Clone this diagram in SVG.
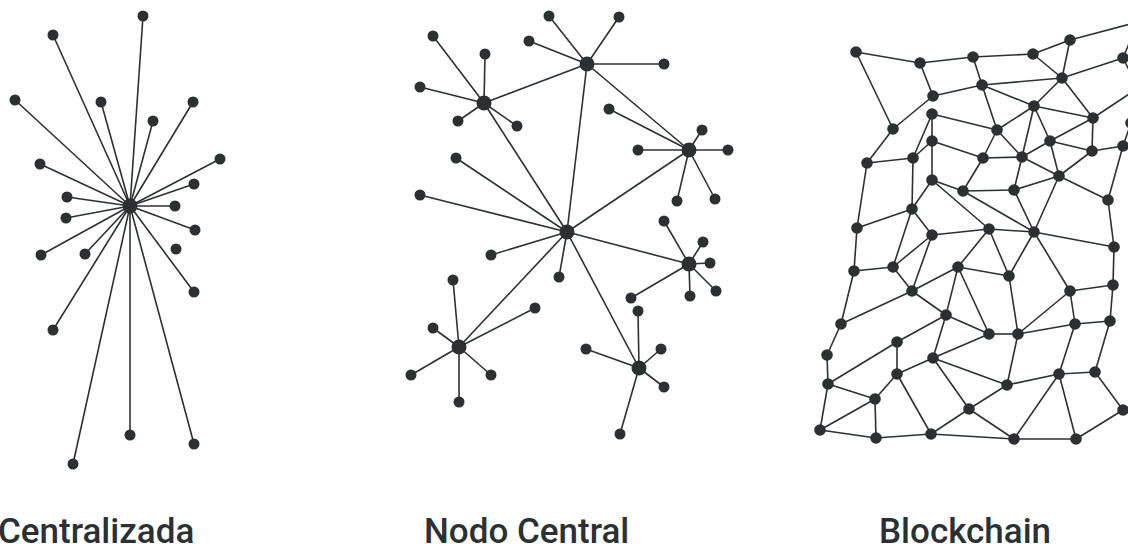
<svg xmlns="http://www.w3.org/2000/svg" width="1128" height="548" viewBox="0 0 1128 548">
<style>
.e line{stroke:#2b3133;stroke-width:1.6;fill:none}
circle{fill:#2b3133}
.lbl{font-family:Roboto,"Liberation Sans",sans-serif;font-weight:500;font-size:35px;fill:#2b3133}
</style>
<rect width="1128" height="548" fill="#ffffff"/>

<!-- Centralizada -->
<g id="centralizada-edges" class="e">
<line x1="130" y1="206" x2="143" y2="16"/>
<line x1="130" y1="206" x2="53" y2="35"/>
<line x1="130" y1="206" x2="15" y2="100"/>
<line x1="130" y1="206" x2="101" y2="102"/>
<line x1="130" y1="206" x2="193" y2="102"/>
<line x1="130" y1="206" x2="153" y2="121"/>
<line x1="130" y1="206" x2="220" y2="159"/>
<line x1="130" y1="206" x2="40" y2="164"/>
<line x1="130" y1="206" x2="194" y2="184"/>
<line x1="130" y1="206" x2="67" y2="197"/>
<line x1="130" y1="206" x2="175" y2="206"/>
<line x1="130" y1="206" x2="66" y2="218"/>
<line x1="130" y1="206" x2="195" y2="230"/>
<line x1="130" y1="206" x2="41" y2="255"/>
<line x1="130" y1="206" x2="85" y2="254"/>
<line x1="130" y1="206" x2="194" y2="292"/>
<line x1="130" y1="206" x2="53" y2="330"/>
<line x1="130" y1="206" x2="73" y2="464"/>
<line x1="130" y1="206" x2="130" y2="435"/>
<line x1="130" y1="206" x2="194" y2="444"/>
</g>
<g id="c-hub"><circle cx="130" cy="206" r="7.5"/></g>
<g id="c-leaves">
<g id="c1"><circle cx="143" cy="16" r="5.5"/></g>
<g id="c2"><circle cx="53" cy="35" r="5.5"/></g>
<g id="c3"><circle cx="15" cy="100" r="5.5"/></g>
<g id="c4"><circle cx="101" cy="102" r="5.5"/></g>
<g id="c5"><circle cx="193" cy="102" r="5.5"/></g>
<g id="c6"><circle cx="153" cy="121" r="5.5"/></g>
<g id="c7"><circle cx="220" cy="159" r="5.5"/></g>
<g id="c8"><circle cx="40" cy="164" r="5.5"/></g>
<g id="c9"><circle cx="194" cy="184" r="5.5"/></g>
<g id="c10"><circle cx="67" cy="197" r="5.5"/></g>
<g id="c11"><circle cx="175" cy="206" r="5.5"/></g>
<g id="c12"><circle cx="66" cy="218" r="5.5"/></g>
<g id="c13"><circle cx="195" cy="230" r="5.5"/></g>
<g id="c14"><circle cx="41" cy="255" r="5.5"/></g>
<g id="c15"><circle cx="85" cy="254" r="5.5"/></g>
<g id="c16"><circle cx="176" cy="249" r="5.5"/></g>
<g id="c17"><circle cx="194" cy="292" r="5.5"/></g>
<g id="c18"><circle cx="53" cy="330" r="5.5"/></g>
<g id="c19"><circle cx="73" cy="464" r="5.5"/></g>
<g id="c20"><circle cx="130" cy="435" r="5.5"/></g>
<g id="c21"><circle cx="194" cy="444" r="5.5"/></g>
</g>

<!-- Nodo Central -->
<g id="nodo-edges" class="e">
<line x1="567" y1="232" x2="484" y2="103"/>
<line x1="567" y1="232" x2="587" y2="64"/>
<line x1="567" y1="232" x2="689" y2="150"/>
<line x1="567" y1="232" x2="689" y2="264"/>
<line x1="567" y1="232" x2="459" y2="347"/>
<line x1="567" y1="232" x2="639" y2="368"/>
<line x1="567" y1="232" x2="456" y2="158"/>
<line x1="567" y1="232" x2="420" y2="195"/>
<line x1="567" y1="232" x2="491" y2="255"/>
<line x1="567" y1="232" x2="559" y2="277"/>
<line x1="484" y1="103" x2="433" y2="36"/>
<line x1="484" y1="103" x2="485" y2="54"/>
<line x1="484" y1="103" x2="420" y2="87"/>
<line x1="484" y1="103" x2="458" y2="121"/>
<line x1="484" y1="103" x2="517" y2="126"/>
<line x1="484" y1="103" x2="587" y2="64"/>
<line x1="587" y1="64" x2="549" y2="16"/>
<line x1="587" y1="64" x2="529" y2="41"/>
<line x1="587" y1="64" x2="619" y2="17"/>
<line x1="587" y1="64" x2="664" y2="64"/>
<line x1="587" y1="64" x2="689" y2="150"/>
<line x1="689" y1="150" x2="609" y2="109"/>
<line x1="689" y1="150" x2="638" y2="150"/>
<line x1="689" y1="150" x2="702" y2="130"/>
<line x1="689" y1="150" x2="728" y2="150"/>
<line x1="689" y1="150" x2="677" y2="201"/>
<line x1="689" y1="150" x2="715" y2="199"/>
<line x1="689" y1="264" x2="703" y2="242"/>
<line x1="689" y1="264" x2="710" y2="263"/>
<line x1="689" y1="264" x2="716" y2="291"/>
<line x1="689" y1="264" x2="690" y2="296"/>
<line x1="689" y1="264" x2="631" y2="298"/>
<line x1="689" y1="264" x2="664" y2="221"/>
<line x1="459" y1="347" x2="453" y2="280"/>
<line x1="459" y1="347" x2="433" y2="328"/>
<line x1="459" y1="347" x2="411" y2="375"/>
<line x1="459" y1="347" x2="491" y2="375"/>
<line x1="459" y1="347" x2="459" y2="402"/>
<line x1="459" y1="347" x2="535" y2="308"/>
<line x1="639" y1="368" x2="638" y2="311"/>
<line x1="639" y1="368" x2="586" y2="349"/>
<line x1="639" y1="368" x2="661" y2="349"/>
<line x1="639" y1="368" x2="664" y2="387"/>
<line x1="639" y1="368" x2="620" y2="434"/>
</g>
<g id="nodo-nodes">
<g id="n-center"><circle cx="567" cy="232" r="7.5"/></g>
<g id="n-hub1"><circle cx="484" cy="103" r="7.5"/></g>
<g id="n-hub2"><circle cx="587" cy="64" r="7.5"/></g>
<g id="n-hub3"><circle cx="689" cy="150" r="7.5"/></g>
<g id="n-hub4"><circle cx="689" cy="264" r="7.5"/></g>
<g id="n-hub5"><circle cx="459" cy="347" r="7.5"/></g>
<g id="n-hub6"><circle cx="639" cy="368" r="7.5"/></g>
<g id="n1"><circle cx="433" cy="36" r="5.5"/></g>
<g id="n2"><circle cx="485" cy="54" r="5.5"/></g>
<g id="n3"><circle cx="420" cy="87" r="5.5"/></g>
<g id="n4"><circle cx="458" cy="121" r="5.5"/></g>
<g id="n5"><circle cx="517" cy="126" r="5.5"/></g>
<g id="n6"><circle cx="549" cy="16" r="5.5"/></g>
<g id="n7"><circle cx="529" cy="41" r="5.5"/></g>
<g id="n8"><circle cx="619" cy="17" r="5.5"/></g>
<g id="n9"><circle cx="664" cy="64" r="5.5"/></g>
<g id="n10"><circle cx="609" cy="109" r="5.5"/></g>
<g id="n11"><circle cx="638" cy="150" r="5.5"/></g>
<g id="n12"><circle cx="702" cy="130" r="5.5"/></g>
<g id="n13"><circle cx="728" cy="150" r="5.5"/></g>
<g id="n14"><circle cx="677" cy="201" r="5.5"/></g>
<g id="n15"><circle cx="715" cy="199" r="5.5"/></g>
<g id="n16"><circle cx="456" cy="158" r="5.5"/></g>
<g id="n17"><circle cx="420" cy="195" r="5.5"/></g>
<g id="n18"><circle cx="491" cy="255" r="5.5"/></g>
<g id="n19"><circle cx="559" cy="277" r="5.5"/></g>
<g id="n20"><circle cx="703" cy="242" r="5.5"/></g>
<g id="n21"><circle cx="710" cy="263" r="5.5"/></g>
<g id="n22"><circle cx="716" cy="291" r="5.5"/></g>
<g id="n23"><circle cx="690" cy="296" r="5.5"/></g>
<g id="n24"><circle cx="631" cy="298" r="5.5"/></g>
<g id="n25"><circle cx="664" cy="221" r="5.5"/></g>
<g id="n26"><circle cx="453" cy="280" r="5.5"/></g>
<g id="n27"><circle cx="433" cy="328" r="5.5"/></g>
<g id="n28"><circle cx="411" cy="375" r="5.5"/></g>
<g id="n29"><circle cx="491" cy="375" r="5.5"/></g>
<g id="n30"><circle cx="459" cy="402" r="5.5"/></g>
<g id="n31"><circle cx="535" cy="308" r="5.5"/></g>
<g id="n32"><circle cx="638" cy="311" r="5.5"/></g>
<g id="n33"><circle cx="586" cy="349" r="5.5"/></g>
<g id="n34"><circle cx="661" cy="349" r="5.5"/></g>
<g id="n35"><circle cx="664" cy="387" r="5.5"/></g>
<g id="n36"><circle cx="620" cy="434" r="5.5"/></g>
</g>

<!-- Blockchain -->
<g id="blockchain-edges" class="e">
<line x1="856" y1="52" x2="920" y2="63"/>
<line x1="856" y1="52" x2="893" y2="129"/>
<line x1="920" y1="63" x2="973" y2="57"/>
<line x1="920" y1="63" x2="933" y2="96"/>
<line x1="933" y1="96" x2="982" y2="85"/>
<line x1="933" y1="96" x2="893" y2="129"/>
<line x1="893" y1="129" x2="867" y2="163"/>
<line x1="932" y1="114" x2="997" y2="130"/>
<line x1="932" y1="114" x2="913" y2="158"/>
<line x1="932" y1="114" x2="932" y2="141"/>
<line x1="932" y1="141" x2="913" y2="158"/>
<line x1="932" y1="141" x2="983" y2="158"/>
<line x1="867" y1="163" x2="913" y2="158"/>
<line x1="913" y1="158" x2="912" y2="209"/>
<line x1="932" y1="141" x2="932" y2="180"/>
<line x1="932" y1="180" x2="912" y2="209"/>
<line x1="932" y1="180" x2="963" y2="191"/>
<line x1="932" y1="180" x2="989" y2="229"/>
<line x1="867" y1="163" x2="857" y2="228"/>
<line x1="912" y1="209" x2="857" y2="228"/>
<line x1="912" y1="209" x2="893" y2="267"/>
<line x1="912" y1="209" x2="932" y2="235"/>
<line x1="973" y1="57" x2="1033" y2="54"/>
<line x1="973" y1="57" x2="982" y2="85"/>
<line x1="1033" y1="54" x2="1070" y2="40"/>
<line x1="1033" y1="54" x2="1062" y2="78"/>
<line x1="1070" y1="40" x2="1062" y2="78"/>
<line x1="1070" y1="40" x2="1138" y2="22"/>
<line x1="1123" y1="58" x2="1138" y2="22"/>
<line x1="1123" y1="58" x2="1138" y2="88"/>
<line x1="1093" y1="118" x2="1138" y2="88"/>
<line x1="982" y1="85" x2="1062" y2="78"/>
<line x1="1062" y1="78" x2="1123" y2="58"/>
<line x1="982" y1="85" x2="1034" y2="106"/>
<line x1="982" y1="85" x2="997" y2="130"/>
<line x1="1062" y1="78" x2="1034" y2="106"/>
<line x1="1062" y1="78" x2="1093" y2="118"/>
<line x1="1034" y1="106" x2="1093" y2="118"/>
<line x1="1034" y1="106" x2="997" y2="130"/>
<line x1="1034" y1="106" x2="1050" y2="141"/>
<line x1="1034" y1="106" x2="1022" y2="157"/>
<line x1="1093" y1="118" x2="1092" y2="151"/>
<line x1="997" y1="130" x2="983" y2="158"/>
<line x1="997" y1="130" x2="1022" y2="157"/>
<line x1="1050" y1="141" x2="1092" y2="151"/>
<line x1="1050" y1="141" x2="1022" y2="157"/>
<line x1="1050" y1="141" x2="1059" y2="176"/>
<line x1="1050" y1="141" x2="1093" y2="118"/>
<line x1="1092" y1="151" x2="1123" y2="146"/>
<line x1="1092" y1="151" x2="1059" y2="176"/>
<line x1="1123" y1="146" x2="1108" y2="200"/>
<line x1="1123" y1="146" x2="1131" y2="123"/>
<line x1="983" y1="158" x2="1022" y2="157"/>
<line x1="983" y1="158" x2="963" y2="191"/>
<line x1="1022" y1="157" x2="1059" y2="176"/>
<line x1="1022" y1="157" x2="1014" y2="190"/>
<line x1="1059" y1="176" x2="1014" y2="190"/>
<line x1="1059" y1="176" x2="1108" y2="200"/>
<line x1="1059" y1="176" x2="1034" y2="232"/>
<line x1="1014" y1="190" x2="1034" y2="232"/>
<line x1="963" y1="191" x2="1014" y2="190"/>
<line x1="963" y1="191" x2="1034" y2="232"/>
<line x1="1108" y1="200" x2="1114" y2="247"/>
<line x1="857" y1="228" x2="854" y2="271"/>
<line x1="854" y1="271" x2="893" y2="267"/>
<line x1="893" y1="267" x2="932" y2="235"/>
<line x1="893" y1="267" x2="912" y2="291"/>
<line x1="932" y1="235" x2="912" y2="291"/>
<line x1="932" y1="235" x2="989" y2="229"/>
<line x1="854" y1="271" x2="841" y2="324"/>
<line x1="912" y1="291" x2="958" y2="267"/>
<line x1="912" y1="291" x2="946" y2="315"/>
<line x1="841" y1="324" x2="912" y2="291"/>
<line x1="958" y1="267" x2="946" y2="315"/>
<line x1="958" y1="267" x2="989" y2="229"/>
<line x1="958" y1="267" x2="1009" y2="276"/>
<line x1="958" y1="267" x2="989" y2="334"/>
<line x1="946" y1="315" x2="897" y2="342"/>
<line x1="946" y1="315" x2="933" y2="358"/>
<line x1="946" y1="315" x2="989" y2="334"/>
<line x1="841" y1="324" x2="827" y2="355"/>
<line x1="897" y1="342" x2="897" y2="374"/>
<line x1="897" y1="342" x2="828" y2="384"/>
<line x1="827" y1="355" x2="828" y2="384"/>
<line x1="933" y1="358" x2="897" y2="374"/>
<line x1="933" y1="358" x2="989" y2="334"/>
<line x1="933" y1="358" x2="1007" y2="385"/>
<line x1="933" y1="358" x2="969" y2="409"/>
<line x1="828" y1="384" x2="875" y2="399"/>
<line x1="828" y1="384" x2="820" y2="430"/>
<line x1="897" y1="374" x2="875" y2="399"/>
<line x1="897" y1="374" x2="931" y2="434"/>
<line x1="875" y1="399" x2="820" y2="430"/>
<line x1="875" y1="399" x2="876" y2="438"/>
<line x1="820" y1="430" x2="876" y2="438"/>
<line x1="876" y1="438" x2="931" y2="434"/>
<line x1="931" y1="434" x2="969" y2="409"/>
<line x1="931" y1="434" x2="1014" y2="439"/>
<line x1="989" y1="229" x2="1034" y2="232"/>
<line x1="989" y1="229" x2="1009" y2="276"/>
<line x1="1034" y1="232" x2="1114" y2="247"/>
<line x1="1034" y1="232" x2="1009" y2="276"/>
<line x1="1034" y1="232" x2="1070" y2="291"/>
<line x1="1009" y1="276" x2="1018" y2="334"/>
<line x1="1070" y1="291" x2="1113" y2="285"/>
<line x1="1070" y1="291" x2="1018" y2="334"/>
<line x1="1070" y1="291" x2="1075" y2="324"/>
<line x1="1113" y1="285" x2="1114" y2="247"/>
<line x1="1113" y1="285" x2="1110" y2="321"/>
<line x1="989" y1="334" x2="1018" y2="334"/>
<line x1="1018" y1="334" x2="1075" y2="324"/>
<line x1="1018" y1="334" x2="1007" y2="385"/>
<line x1="1075" y1="324" x2="1110" y2="321"/>
<line x1="1075" y1="324" x2="1059" y2="374"/>
<line x1="1110" y1="321" x2="1095" y2="372"/>
<line x1="1095" y1="372" x2="1059" y2="374"/>
<line x1="1095" y1="372" x2="1123" y2="410"/>
<line x1="1059" y1="374" x2="1007" y2="385"/>
<line x1="1059" y1="374" x2="1014" y2="439"/>
<line x1="1059" y1="374" x2="1076" y2="439"/>
<line x1="1007" y1="385" x2="969" y2="409"/>
<line x1="969" y1="409" x2="1014" y2="439"/>
<line x1="1014" y1="439" x2="1076" y2="439"/>
<line x1="1076" y1="439" x2="1123" y2="410"/>
</g>
<g id="blockchain-nodes">
<g id="b1"><circle cx="856" cy="52" r="5.8"/></g>
<g id="b2"><circle cx="920" cy="63" r="5.8"/></g>
<g id="b3"><circle cx="973" cy="57" r="5.8"/></g>
<g id="b4"><circle cx="933" cy="96" r="5.8"/></g>
<g id="b5"><circle cx="893" cy="129" r="5.8"/></g>
<g id="b6"><circle cx="932" cy="114" r="5.8"/></g>
<g id="b7"><circle cx="932" cy="141" r="5.8"/></g>
<g id="b8"><circle cx="913" cy="158" r="5.8"/></g>
<g id="b9"><circle cx="867" cy="163" r="5.8"/></g>
<g id="b10"><circle cx="932" cy="180" r="5.8"/></g>
<g id="b11"><circle cx="963" cy="191" r="5.8"/></g>
<g id="b12"><circle cx="912" cy="209" r="5.8"/></g>
<g id="b13"><circle cx="857" cy="228" r="5.8"/></g>
<g id="b14"><circle cx="1033" cy="54" r="5.8"/></g>
<g id="b15"><circle cx="1070" cy="40" r="5.8"/></g>
<g id="b16"><circle cx="1123" cy="58" r="5.8"/></g>
<g id="b17"><circle cx="982" cy="85" r="5.8"/></g>
<g id="b18"><circle cx="1062" cy="78" r="5.8"/></g>
<g id="b19"><circle cx="1034" cy="106" r="5.8"/></g>
<g id="b20"><circle cx="1093" cy="118" r="5.8"/></g>
<g id="b21"><circle cx="997" cy="130" r="5.8"/></g>
<g id="b22"><circle cx="1050" cy="141" r="5.8"/></g>
<g id="b23"><circle cx="1092" cy="151" r="5.8"/></g>
<g id="b24"><circle cx="1123" cy="146" r="5.8"/></g>
<g id="b25"><circle cx="1131" cy="123" r="5.8"/></g>
<g id="b26"><circle cx="983" cy="158" r="5.8"/></g>
<g id="b27"><circle cx="1022" cy="157" r="5.8"/></g>
<g id="b28"><circle cx="1059" cy="176" r="5.8"/></g>
<g id="b29"><circle cx="1014" cy="190" r="5.8"/></g>
<g id="b30"><circle cx="1108" cy="200" r="5.8"/></g>
<g id="b31"><circle cx="989" cy="229" r="5.8"/></g>
<g id="b32"><circle cx="1034" cy="232" r="5.8"/></g>
<g id="b33"><circle cx="932" cy="235" r="5.8"/></g>
<g id="b34"><circle cx="854" cy="271" r="5.8"/></g>
<g id="b35"><circle cx="893" cy="267" r="5.8"/></g>
<g id="b36"><circle cx="912" cy="291" r="5.8"/></g>
<g id="b37"><circle cx="958" cy="267" r="5.8"/></g>
<g id="b38"><circle cx="946" cy="315" r="5.8"/></g>
<g id="b39"><circle cx="841" cy="324" r="5.8"/></g>
<g id="b40"><circle cx="897" cy="342" r="5.8"/></g>
<g id="b41"><circle cx="933" cy="358" r="5.8"/></g>
<g id="b42"><circle cx="827" cy="355" r="5.8"/></g>
<g id="b43"><circle cx="828" cy="384" r="5.8"/></g>
<g id="b44"><circle cx="897" cy="374" r="5.8"/></g>
<g id="b45"><circle cx="875" cy="399" r="5.8"/></g>
<g id="b46"><circle cx="969" cy="409" r="5.8"/></g>
<g id="b47"><circle cx="820" cy="430" r="5.8"/></g>
<g id="b48"><circle cx="876" cy="438" r="5.8"/></g>
<g id="b49"><circle cx="931" cy="434" r="5.8"/></g>
<g id="b50"><circle cx="1114" cy="247" r="5.8"/></g>
<g id="b51"><circle cx="1009" cy="276" r="5.8"/></g>
<g id="b52"><circle cx="1070" cy="291" r="5.8"/></g>
<g id="b53"><circle cx="1113" cy="285" r="5.8"/></g>
<g id="b54"><circle cx="989" cy="334" r="5.8"/></g>
<g id="b55"><circle cx="1018" cy="334" r="5.8"/></g>
<g id="b56"><circle cx="1075" cy="324" r="5.8"/></g>
<g id="b57"><circle cx="1110" cy="321" r="5.8"/></g>
<g id="b58"><circle cx="1095" cy="372" r="5.8"/></g>
<g id="b59"><circle cx="1059" cy="374" r="5.8"/></g>
<g id="b60"><circle cx="1007" cy="385" r="5.8"/></g>
<g id="b61"><circle cx="1123" cy="410" r="5.8"/></g>
<g id="b62"><circle cx="1014" cy="439" r="5.8"/></g>
<g id="b63"><circle cx="1076" cy="439" r="5.8"/></g>
<g id="b64"><circle cx="1138" cy="22" r="5.8"/></g>
<g id="b65"><circle cx="1138" cy="88" r="5.8"/></g>
</g>

<g id="labels">
<text class="lbl" x="-2" y="543">Centralizada</text>
<text class="lbl" x="424" y="543">Nodo Central</text>
<text class="lbl" x="879" y="543">Blockchain</text>
</g>
</svg>
